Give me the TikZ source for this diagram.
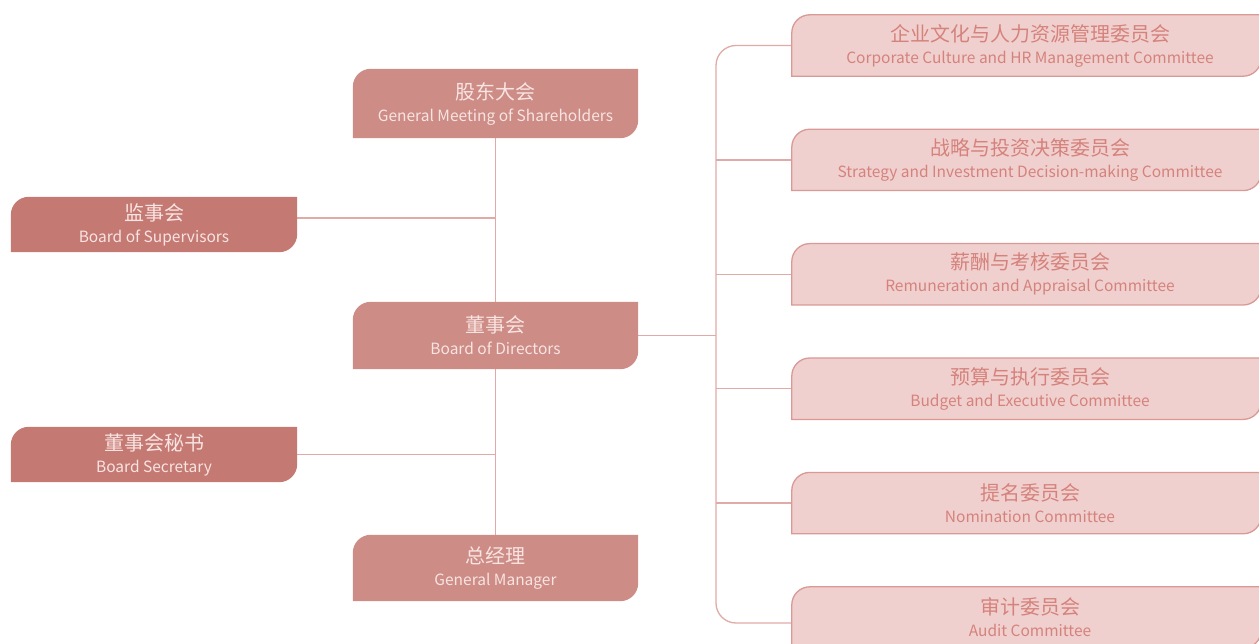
\documentclass[tikz,border=0pt]{standalone}
\usepackage{fontspec}
\setmainfont{Noto Sans CJK SC}
\usetikzlibrary{backgrounds,calc}
\definecolor{mainfill}{RGB}{205,140,133}
\definecolor{sidefill}{RGB}{197,121,115}
\definecolor{lighttext}{RGB}{248,228,226}
\definecolor{comfill}{RGB}{240,208,206}
\definecolor{comborder}{RGB}{217,153,149}
\definecolor{comtext}{RGB}{213,130,124}
\definecolor{linkcol}{RGB}{224,170,166}
\newcommand\twoline[2]{{\fontsize{20}{22}\selectfont #1}\\{\fontsize{15.5}{22}\selectfont #2}}
\newcommand\twolinec[2]{{\fontsize{20}{22}\selectfont\hspace*{7pt}#1}\\{\fontsize{15.5}{22}\selectfont\hspace*{7pt}#2}}
\newcommand\tlbrshape[2]{%
  \path[#2] (#1.south west) -- ([yshift=-18pt]#1.north west)
    arc[start angle=180,end angle=90,radius=18pt] -- (#1.north east)
    -- ([yshift=18pt]#1.south east)
    arc[start angle=0,end angle=-90,radius=18pt] -- cycle;}
\tikzset{
  x=1pt,y=1pt,
  basefont/.style={font=\fontsize{15.5}{22}\selectfont},
  orgnode/.style={basefont, inner sep=0pt, align=center, text=lighttext, minimum width=285pt},
  sidenode/.style={basefont, inner sep=0pt, align=center, text=lighttext, minimum width=286pt, minimum height=55pt},
  comnode/.style={basefont, inner sep=0pt, align=center, text=comtext, minimum width=469pt, minimum height=61pt},
  link/.style={draw=linkcol, line width=1.3pt},
  mainshape/.style={fill=mainfill},
  sideshape/.style={fill=sidefill},
  comshape/.style={fill=comfill, draw=comborder, line width=1.3pt},
}
\begin{document}
\begin{tikzpicture}
\useasboundingbox (0,0) rectangle (1259,-644);
% central column
\node[orgnode, minimum height=69pt] (gm) at (495.5,-103.5) {\twoline{股东大会}{General Meeting of Shareholders}};
\node[orgnode, minimum height=67pt] (bd) at (495.5,-335.5) {\twoline{董事会}{Board of Directors}};
\node[orgnode, minimum height=66pt] (mgr) at (495.5,-568) {\twoline{总经理}{General Manager}};
% left column
\node[sidenode] (sup) at (154,-224.5) {\twoline{监事会}{Board of Supervisors}};
\node[sidenode] (sec) at (154,-454.5) {\twoline{董事会秘书}{Board Secretary}};
% committees
\node[comnode] (c1) at (1026.5,-45.5) {\twolinec{企业文化与人力资源管理委员会}{Corporate Culture and HR Management Committee}};
\node[comnode] (c2) at (1026.5,-159.9) {\twolinec{战略与投资决策委员会}{Strategy and Investment Decision-making Committee}};
\node[comnode] (c3) at (1026.5,-274.3) {\twolinec{薪酬与考核委员会}{Remuneration and Appraisal Committee}};
\node[comnode] (c4) at (1026.5,-388.7) {\twolinec{预算与执行委员会}{Budget and Executive Committee}};
\node[comnode] (c5) at (1026.5,-503.1) {\twolinec{提名委员会}{Nomination Committee}};
\node[comnode] (c6) at (1026.5,-617.5) {\twolinec{审计委员会}{Audit Committee}};
\coordinate (bx) at (716,-335.5);
\coordinate (supj) at ($(sup.east)+(0,6.5)$);
\coordinate (c6j) at ($(c6.west)+(0,-5.5)$);
\begin{pgfonlayer}{background}
  \draw[link] (gm.south) -- (bd.north);
  \draw[link] (bd.south) -- (mgr.north);
  \draw[link] (supj) -- (supj -| gm.south);
  \draw[link] (sec.east) -- (sec.east -| gm.south);
  \draw[link] (bd.east) -- (bx);
  \draw[link, rounded corners=20pt] (c1.west) -| (bx) |- (c6j);
  \foreach \c in {c2,c3,c4,c5} \draw[link] (\c.west -| bx) -- (\c.west);
  \tlbrshape{gm}{mainshape}
  \tlbrshape{bd}{mainshape}
  \tlbrshape{mgr}{mainshape}
  \tlbrshape{sup}{sideshape}
  \tlbrshape{sec}{sideshape}
  \foreach \c in {c1,c2,c3,c4,c5,c6} {\tlbrshape{\c}{comshape}}
\end{pgfonlayer}
\end{tikzpicture}
\end{document}
